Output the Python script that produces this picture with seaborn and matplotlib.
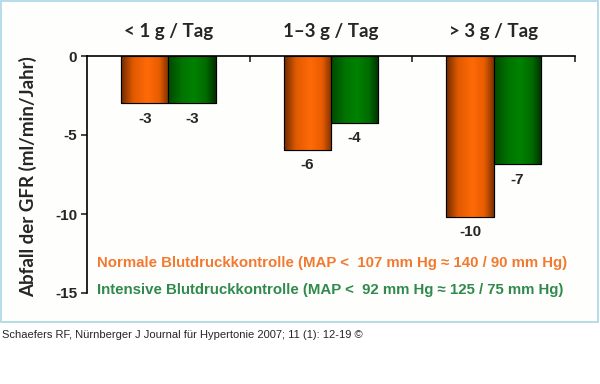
import numpy as np
import pandas as pd
import matplotlib
matplotlib.use("Agg")
import matplotlib.pyplot as plt
import seaborn as sns
from matplotlib.colors import LinearSegmentedColormap
from matplotlib.patches import Rectangle

# data
categories = ["< 1 g / Tag", "1–3 g / Tag", "> 3 g / Tag"]
groups = ["Normale", "Intensive"]
normal = [-3.0, -5.95, -10.2]
intensive = [-3.0, -4.25, -6.85]
normal_labels = ["-3", "-6", "-10"]
intensive_labels = ["-3", "-4", "-7"]
yticks = [0, -5, -10, -15]

legend_normal = "Normale Blutdruckkontrolle (MAP <  107 mm Hg ≈ 140 / 90 mm Hg)"
legend_intensive = "Intensive Blutdruckkontrolle (MAP <  92 mm Hg ≈ 125 / 75 mm Hg)"
caption = "Schaefers RF, Nürnberger J Journal für Hypertonie 2007; 11 (1): 12-19 ©"

df = pd.DataFrame({
    "cat": categories * 2,
    "grp": [groups[0]] * 3 + [groups[1]] * 3,
    "val": normal + intensive,
})

sns.set_style("white")
plt.rcParams["font.family"] = ["Liberation Sans", "DejaVu Sans"]
humanist = ["Lato", "Open Sans", "DejaVu Sans"]

fig = plt.figure(figsize=(6, 3.84), dpi=100)
fig.patch.set_facecolor("white")
# light blue frame around the chart area
fig.patches.append(Rectangle((1 / 600, 1 - 322 / 384), 597 / 600, 321 / 384,
                             transform=fig.transFigure, facecolor="#fefefc",
                             edgecolor="#a9d6e6", linewidth=1.2, zorder=-5))

ax = fig.add_axes([87 / 600, 1 - 293 / 384, 488 / 600, 237 / 384])
ax.set_zorder(2)
ax.set_facecolor("none")

sns.barplot(data=df, x="cat", y="val", hue="grp", hue_order=groups,
            palette=["#ff6600", "#008000"], width=0.58, gap=0,
            edgecolor="black", linewidth=0.8, legend=False, ax=ax)

orange_cm = LinearSegmentedColormap.from_list(
    "o", [(0, "#6e2a00"), (0.25, "#e05a00"), (0.55, "#ff6a08"), (0.8, "#e85c00"), (1, "#7a3000")])
green_cm = LinearSegmentedColormap.from_list(
    "g", [(0, "#004a00"), (0.3, "#007400"), (0.55, "#008200"), (0.8, "#006a00"), (1, "#003000")])

grad = np.linspace(0, 1, 256).reshape(1, -1)
bars = ax.patches[:6]
for i, patch in enumerate(bars):
    cm = orange_cm if i < 3 else green_cm
    x0, y0 = patch.get_x(), patch.get_y()
    w, h = patch.get_width(), patch.get_height()
    im = ax.imshow(grad, cmap=cm, extent=[x0, x0 + w, y0, y0 + h],
                   aspect="auto", zorder=patch.get_zorder() + 0.1, interpolation="bicubic")
    im.set_clip_path(patch)
    edge = Rectangle((x0, y0), w, h, fill=False, edgecolor="black", linewidth=0.8,
                     zorder=patch.get_zorder() + 0.2)
    ax.add_patch(edge)
    lab = normal_labels[i] if i < 3 else intensive_labels[i - 3]
    ax.annotate(lab, (x0 + w / 2, y0 + h), xytext=(0, -6), textcoords="offset points",
                ha="center", va="top", fontsize=11, fontweight="bold")

ax.set_xlim(-0.5, 2.5)
ax.set_ylim(-15, 0)

# spines: left axis and top (zero) line only
for s in ["bottom", "right"]:
    ax.spines[s].set_visible(False)
for s in ["left", "top"]:
    ax.spines[s].set_linewidth(1.2)
    ax.spines[s].set_color("black")

ax.set_yticks(yticks)
ax.set_yticklabels([str(v) for v in yticks])
ax.tick_params(axis="y", direction="out", length=4, width=1.2, pad=3,
               labelsize=11, left=True)
for t in ax.get_yticklabels():
    t.set_fontweight("bold")

ax.xaxis.set_ticks_position("top")
ax.set_xticks([0.5, 1.5, 2.5])
ax.set_xticklabels([])
ax.tick_params(axis="x", direction="in", length=4, width=1.2, top=True, bottom=False)
ax.set_xlabel("")
ax.set_ylabel("Abfall der GFR (ml/min/Jahr)", fontsize=13.5, fontweight="bold",
              family=humanist)
ax.yaxis.set_label_coords(-50 / 488, 0.49)

for i, c in enumerate(categories):
    ax.annotate(c, (i, 0), xytext=(0, 14), textcoords="offset points",
                ha="center", va="baseline", fontsize=13.5, fontweight="bold",
                family=humanist)

fig.text(97 / 600, 1 - 263 / 384, legend_normal, color="#f27a30", fontsize=10.8,
         fontweight="bold", va="center", ha="left")
fig.text(97 / 600, 1 - 290 / 384, legend_intensive, color="#2f8a4c", fontsize=10.8,
         fontweight="bold", va="center", ha="left")

fig.text(2 / 600, 1 - 335 / 384, caption, fontsize=8, va="center", ha="left",
         family=["Liberation Sans Narrow", "Liberation Sans"])

fig.savefig("out.png", dpi=100, facecolor="white")
